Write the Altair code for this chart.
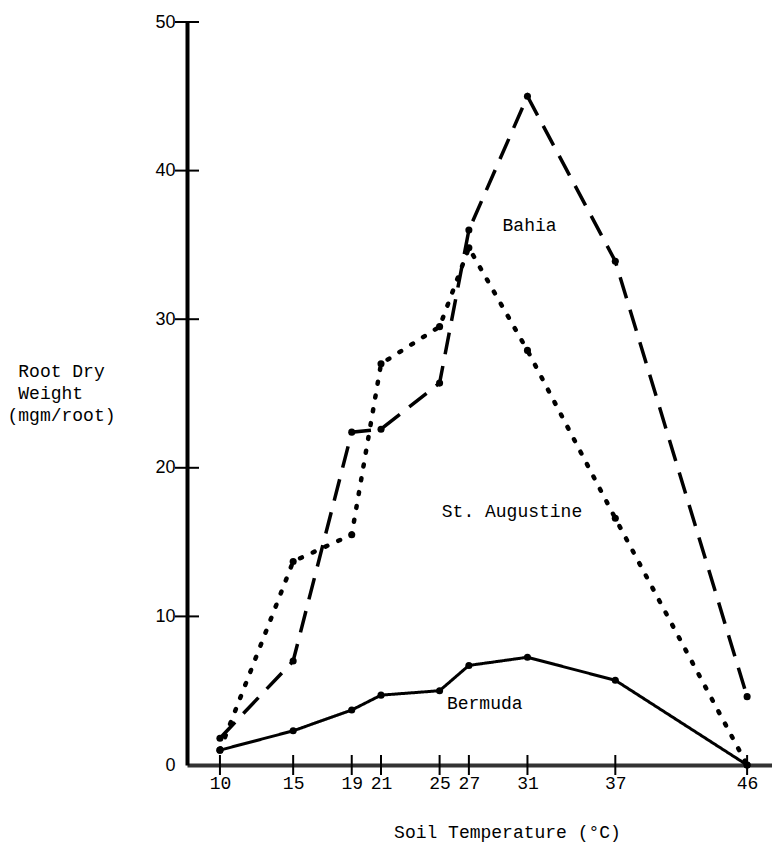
import altair as alt
import pandas as pd

temps = [10, 15, 19, 21, 25, 27, 31, 37, 46]
bahia = [1.8, 7.0, 22.4, 22.6, 25.7, 36.0, 45.0, 33.9, 4.6]
st_augustine = [1.0, 13.7, 15.5, 27.0, 29.5, 34.8, 27.9, 16.6, 0.0]
bermuda = [1.0, 2.3, 3.7, 4.7, 5.0, 6.7, 7.25, 5.7, 0.0]
y_ticks = [0, 10, 20, 30, 40, 50]

label_names = ["Bahia", "St. Augustine", "Bermuda"]
label_x = [29.3, 25.15, 25.5]
label_y = [36.3, 17.0, 4.1]

FONT = "Liberation Mono"
FS = 18

rows = []
for name, vals in [("Bahia", bahia), ("St. Augustine", st_augustine), ("Bermuda", bermuda)]:
    for t, v in zip(temps, vals):
        rows.append({"temp": t, "weight": v, "series": name})
df = pd.DataFrame(rows)

xscale = alt.Scale(domain=[7.75, 47.7], nice=False, zero=False)
yscale = alt.Scale(domain=[0, 50], nice=False, zero=True)

x_axis = alt.Axis(
    values=temps,
    ticks=False,
    grid=False,
    domainColor="#333333",
    domainWidth=4,
    labelFont=FONT,
    labelFontSize=FS,
    labelColor="black",
    labelPadding=9,
    labelBaseline="top",
    title="Soil Temperature (°C)",
    titleFont=FONT,
    titleFontSize=FS,
    titleFontWeight="normal",
    titleColor="black",
    titleX=320,
    titleY=67,
    titleAlign="center",
    titleBaseline="middle",
)
y_axis = alt.Axis(
    values=y_ticks,
    ticks=False,
    grid=False,
    domainColor="black",
    domainWidth=4,
    labelFont="Liberation Sans",
    labelFontSize=FS,
    labelColor="black",
    labelPadding=12,
    title=["\u200b\u00a0Root Dry", "\u200b\u00a0Weight", "(mgm/root)"],
    titleFont=FONT,
    titleFontSize=FS,
    titleFontWeight="normal",
    titleColor="black",
    titleAngle=0,
    titleAlign="left",
    titleBaseline="top",
    titleX=-180,
    titleY=340,
    titleLineHeight=22,
)

x_enc = alt.X("temp:Q", scale=xscale, axis=x_axis)
y_enc = alt.Y("weight:Q", scale=yscale, axis=y_axis)

base = alt.Chart(df)

def series_line(name, dash, width, cap="butt"):
    return base.transform_filter(alt.datum.series == name).mark_line(
        color="black", strokeWidth=width, strokeDash=dash, strokeCap=cap
    ).encode(x=x_enc, y=y_enc)

bahia_line = series_line("Bahia", [22, 12], 3.5)
sta_line = series_line("St. Augustine", [2, 12], 4.5, "round")
berm_line = series_line("Bermuda", [1, 0], 3)

points = base.mark_circle(color="black", size=50, opacity=1).encode(x=x_enc, y=y_enc)

ytick_df = pd.DataFrame({"weight": y_ticks[1:]})
yticks = alt.Chart(ytick_df).mark_rule(color="black", strokeWidth=2).encode(
    y=y_enc,
    x=alt.value(-12),
    x2=alt.value(12),
)

xtick_df = pd.DataFrame({"temp": temps})
xticks = alt.Chart(xtick_df).mark_rule(color="black", strokeWidth=2).encode(
    x=x_enc,
    y=alt.value(733),
    y2=alt.value(753),
)

lab_df = pd.DataFrame({"name": label_names, "temp": label_x, "weight": label_y})
labels = alt.Chart(lab_df).mark_text(
    font=FONT, fontSize=FS, color="black", align="left", baseline="middle"
).encode(
    x=x_enc,
    y=y_enc,
    text="name:N",
)

chart = (
    alt.layer(bahia_line, sta_line, berm_line, points, yticks, xticks, labels)
    .properties(
        width=585,
        height=743,
        autosize=alt.AutoSizeParams(type="none"),
        padding={"left": 187, "top": 22, "right": 0, "bottom": 80},
        background="white",
    )
    .configure_view(stroke=None)
)

chart.save("out.html", embed_options={"renderer": "svg", "actions": False})
